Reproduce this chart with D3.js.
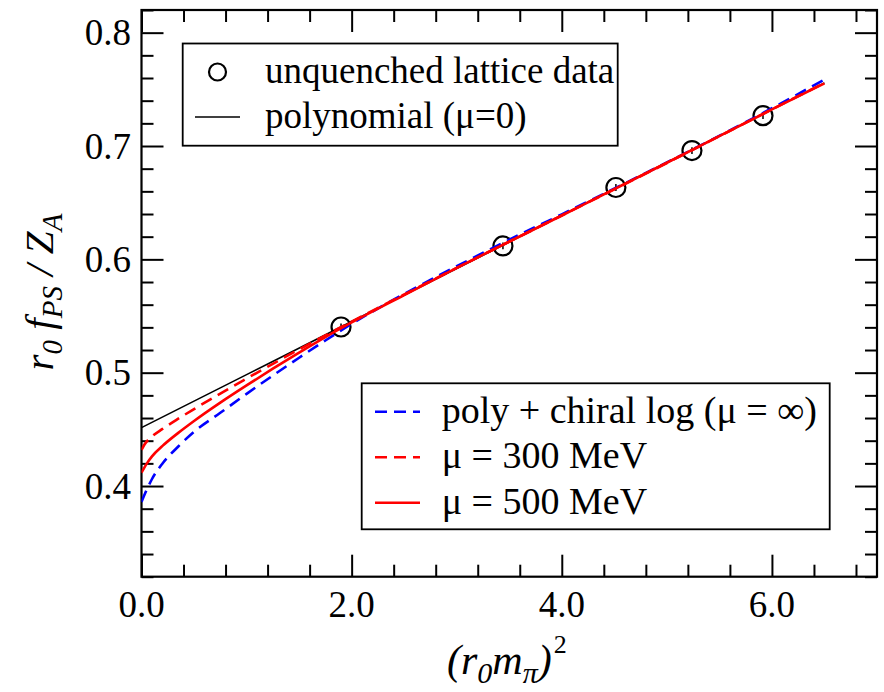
<!DOCTYPE html>
<html><head><meta charset="utf-8">
<script src="https://cdn.jsdelivr.net/npm/d3@7"></script>
<style>
html,body{margin:0;padding:0;background:#fff;}
text{font-family:"Liberation Serif","Times New Roman",serif;fill:#000;}
</style></head>
<body><svg id="c" width="884" height="692"></svg>
<script>
// ---- data ----
const dataX = [1.899, 3.44, 4.515, 5.239, 5.915];
const dataY = [0.5403, 0.6118, 0.6634, 0.6960, 0.7268];
const dataErr = [0.003, 0.003, 0.003, 0.003, 0.003];

const polyX = [0, 1, 2, 3, 4, 5, 6, 6.5];
const polyY = [0.4515, 0.4983, 0.5451, 0.5919, 0.6387, 0.6855, 0.7323, 0.7557];

const blueX = [0, 0.05, 0.1, 0.2, 0.35, 0.5, 0.75, 1.0, 1.25, 1.5, 1.75, 2.0, 2.5, 3.0, 3.5, 4.0, 5.0, 6.0, 6.5];
const blueY = [0.386, 0.3968, 0.4062, 0.4199, 0.4349, 0.4479, 0.4646, 0.4813, 0.4975, 0.5132, 0.5284, 0.5431, 0.5695, 0.5939, 0.6173, 0.6397, 0.6855, 0.7333, 0.7587];

const red300X = [0, 0.03, 0.1, 0.2, 0.35, 0.5, 0.75, 1.0, 1.25, 1.5, 1.75, 2.0, 3.0, 4.0, 5.0, 6.0, 6.5];
const red300Y = [0.4318, 0.4369, 0.4437, 0.4504, 0.4594, 0.4679, 0.4816, 0.4948, 0.5078, 0.5205, 0.5329, 0.5451, 0.5924, 0.6387, 0.6850, 0.7323, 0.7557];

const red500X = [0, 0.05, 0.1, 0.2, 0.35, 0.5, 0.75, 1.0, 1.25, 1.5, 1.75, 2.0, 2.5, 3.0, 4.0, 5.0, 6.0, 6.5];
const red500Y = [0.4118, 0.4198, 0.4262, 0.4354, 0.4469, 0.4574, 0.4736, 0.4888, 0.5035, 0.5177, 0.5314, 0.5443, 0.5685, 0.5924, 0.6387, 0.6852, 0.7323, 0.7552];

const xMajor = [0, 2, 4, 6];
const xMajorLabels = ["0.0", "2.0", "4.0", "6.0"];
const yMajor = [0.4, 0.5, 0.6, 0.7, 0.8];
const yMajorLabels = ["0.4", "0.5", "0.6", "0.7", "0.8"];
const legend1Labels = ["unquenched lattice data", "polynomial (\u03bc=0)"];
const legend2Labels = ["poly + chiral log (\u03bc = \u221e)", "\u03bc = 300 MeV", "\u03bc = 500 MeV"];

// ---- layout ----
const L = 141.5, R = 877, T = 10, B = 576.7;
const x = d3.scaleLinear().domain([0, 7]).range([L, R]);
const y = d3.scaleLinear().domain([0.32, 0.82]).range([B, T]);
const svg = d3.select("#c");
const FS = 37;

const xMinor = d3.range(0, 7.001, 0.4).filter(v => xMajor.every(m => Math.abs(m - v) > 1e-6));
const yMinor = d3.range(0.32, 0.8201, 0.02).filter(v => yMajor.every(m => Math.abs(m - v) > 1e-6));

function axisLines(g, axisGen) { g.call(axisGen); g.select(".domain").remove(); g.selectAll("text").remove(); g.selectAll("line").attr("stroke", "#000").attr("stroke-width", 2); }

// bottom
svg.append("g").attr("transform", `translate(0,${B})`).call(g => axisLines(g, d3.axisTop(x).tickValues(xMajor).tickSize(22)));
svg.append("g").attr("transform", `translate(0,${B})`).call(g => axisLines(g, d3.axisTop(x).tickValues(xMinor).tickSize(12)));
// top
svg.append("g").attr("transform", `translate(0,${T})`).call(g => axisLines(g, d3.axisBottom(x).tickValues(xMajor).tickSize(22)));
svg.append("g").attr("transform", `translate(0,${T})`).call(g => axisLines(g, d3.axisBottom(x).tickValues(xMinor).tickSize(12)));
// left
svg.append("g").attr("transform", `translate(${L},0)`).call(g => axisLines(g, d3.axisRight(y).tickValues(yMajor).tickSize(22)));
svg.append("g").attr("transform", `translate(${L},0)`).call(g => axisLines(g, d3.axisRight(y).tickValues(yMinor).tickSize(12)));
// right
svg.append("g").attr("transform", `translate(${R},0)`).call(g => axisLines(g, d3.axisLeft(y).tickValues(yMajor).tickSize(22)));
svg.append("g").attr("transform", `translate(${R},0)`).call(g => axisLines(g, d3.axisLeft(y).tickValues(yMinor).tickSize(12)));

// frame
svg.append("rect").attr("x", L).attr("y", T).attr("width", R - L).attr("height", B - T)
  .attr("fill", "none").attr("stroke", "#000").attr("stroke-width", 2.2);

// tick labels
svg.selectAll(".xl").data(xMajor).enter().append("text")
  .attr("x", d => x(d)).attr("y", 617).attr("text-anchor", "middle").attr("font-size", FS)
  .text((d, i) => xMajorLabels[i]);
svg.selectAll(".yl").data(yMajor).enter().append("text")
  .attr("x", 131).attr("y", d => y(d) + 12.5).attr("text-anchor", "end").attr("font-size", FS)
  .text((d, i) => yMajorLabels[i]);

// axis titles
const xt = svg.append("text").attr("x", 447).attr("y", 674).attr("font-size", 42);
xt.append("tspan").attr("font-style", "italic").text("(r");
xt.append("tspan").attr("font-style", "italic").attr("font-size", 30).attr("dy", 9).text("0");
xt.append("tspan").attr("font-style", "italic").attr("dy", -9).text("m");
xt.append("tspan").attr("font-style", "italic").attr("font-size", 30).attr("dy", 9).text("\u03c0");
xt.append("tspan").attr("font-style", "italic").attr("dy", -9).text(")");
xt.append("tspan").attr("font-size", 26).attr("dx", 2).attr("dy", -21).text("2");

const yt = svg.append("text").attr("transform", "translate(53,292) rotate(-90)")
  .attr("text-anchor", "middle").attr("font-size", 41).attr("font-style", "italic");
yt.append("tspan").text("r");
yt.append("tspan").attr("font-size", 29).attr("dy", 9).text("0");
yt.append("tspan").attr("dy", -9).text(" f");
yt.append("tspan").attr("font-size", 29).attr("dy", 9).text("PS");
yt.append("tspan").attr("dy", -9).text(" / Z");
yt.append("tspan").attr("font-size", 29).attr("dy", 9).text("A");

// clip
svg.append("clipPath").attr("id", "clip").append("rect").attr("x", L).attr("y", T).attr("width", R - L).attr("height", B - T);
const plot = svg.append("g").attr("clip-path", "url(#clip)");

// data points
const pts = dataX.map((d, i) => ({ x: d, y: dataY[i], e: dataErr[i] }));
plot.selectAll(".eb").data(pts).enter().append("line")
  .attr("x1", d => x(d.x)).attr("x2", d => x(d.x)).attr("y1", d => y(d.y - d.e)).attr("y2", d => y(d.y + d.e))
  .attr("stroke", "#000").attr("stroke-width", 1.5);
plot.selectAll(".pt").data(pts).enter().append("circle")
  .attr("cx", d => x(d.x)).attr("cy", d => y(d.y)).attr("r", 9.5)
  .attr("fill", "none").attr("stroke", "#000").attr("stroke-width", 2.2);

// curves
const line = d3.line().x(d => x(d[0])).y(d => y(d[1])).curve(d3.curveMonotoneX);
const zip = (a, b) => a.map((v, i) => [v, b[i]]);
plot.append("path").attr("d", line(zip(polyX, polyY))).attr("fill", "none").attr("stroke", "#000").attr("stroke-width", 1.6);
plot.append("path").attr("d", line(zip(blueX, blueY))).attr("fill", "none").attr("stroke", "#0000ff").attr("stroke-width", 2.6).attr("stroke-dasharray", "12,7");
plot.append("path").attr("d", line(zip(red300X, red300Y))).attr("fill", "none").attr("stroke", "#ff0000").attr("stroke-width", 2.6).attr("stroke-dasharray", "12,7");
plot.append("path").attr("d", line(zip(red500X, red500Y))).attr("fill", "none").attr("stroke", "#ff0000").attr("stroke-width", 2.6);

// legend 1
svg.append("rect").attr("x", 182.7).attr("y", 43.5).attr("width", 435).attr("height", 102.2)
  .attr("fill", "#fff").attr("stroke", "#000").attr("stroke-width", 1.8);
svg.append("circle").attr("cx", 217.5).attr("cy", 72).attr("r", 8.5).attr("fill", "none").attr("stroke", "#000").attr("stroke-width", 2.2);
svg.append("line").attr("x1", 195).attr("x2", 240).attr("y1", 117).attr("y2", 117).attr("stroke", "#000").attr("stroke-width", 1.6);
svg.selectAll(".l1").data(legend1Labels).enter().append("text")
  .attr("x", 265).attr("y", (d, i) => 72 + 45 * i + 11).attr("font-size", FS).text(d => d);

// legend 2
svg.append("rect").attr("x", 361.7).attr("y", 383.3).attr("width", 468).attr("height", 146)
  .attr("fill", "#fff").attr("stroke", "#000").attr("stroke-width", 1.8);
const l2c = ["#0000ff", "#ff0000", "#ff0000"];
const l2d = ["12,7", "12,7", null];
svg.selectAll(".l2l").data(legend2Labels).enter().append("line")
  .attr("x1", 375).attr("x2", 420).attr("y1", (d, i) => 411.7 + 45.5 * i).attr("y2", (d, i) => 411.7 + 45.5 * i)
  .attr("stroke", (d, i) => l2c[i]).attr("stroke-width", 2.6).attr("stroke-dasharray", (d, i) => l2d[i]);
svg.selectAll(".l2t").data(legend2Labels).enter().append("text")
  .attr("x", 441.7).attr("y", (d, i) => 411.7 + 45.5 * i + 11).attr("font-size", 38).text(d => d);
</script></body></html>
